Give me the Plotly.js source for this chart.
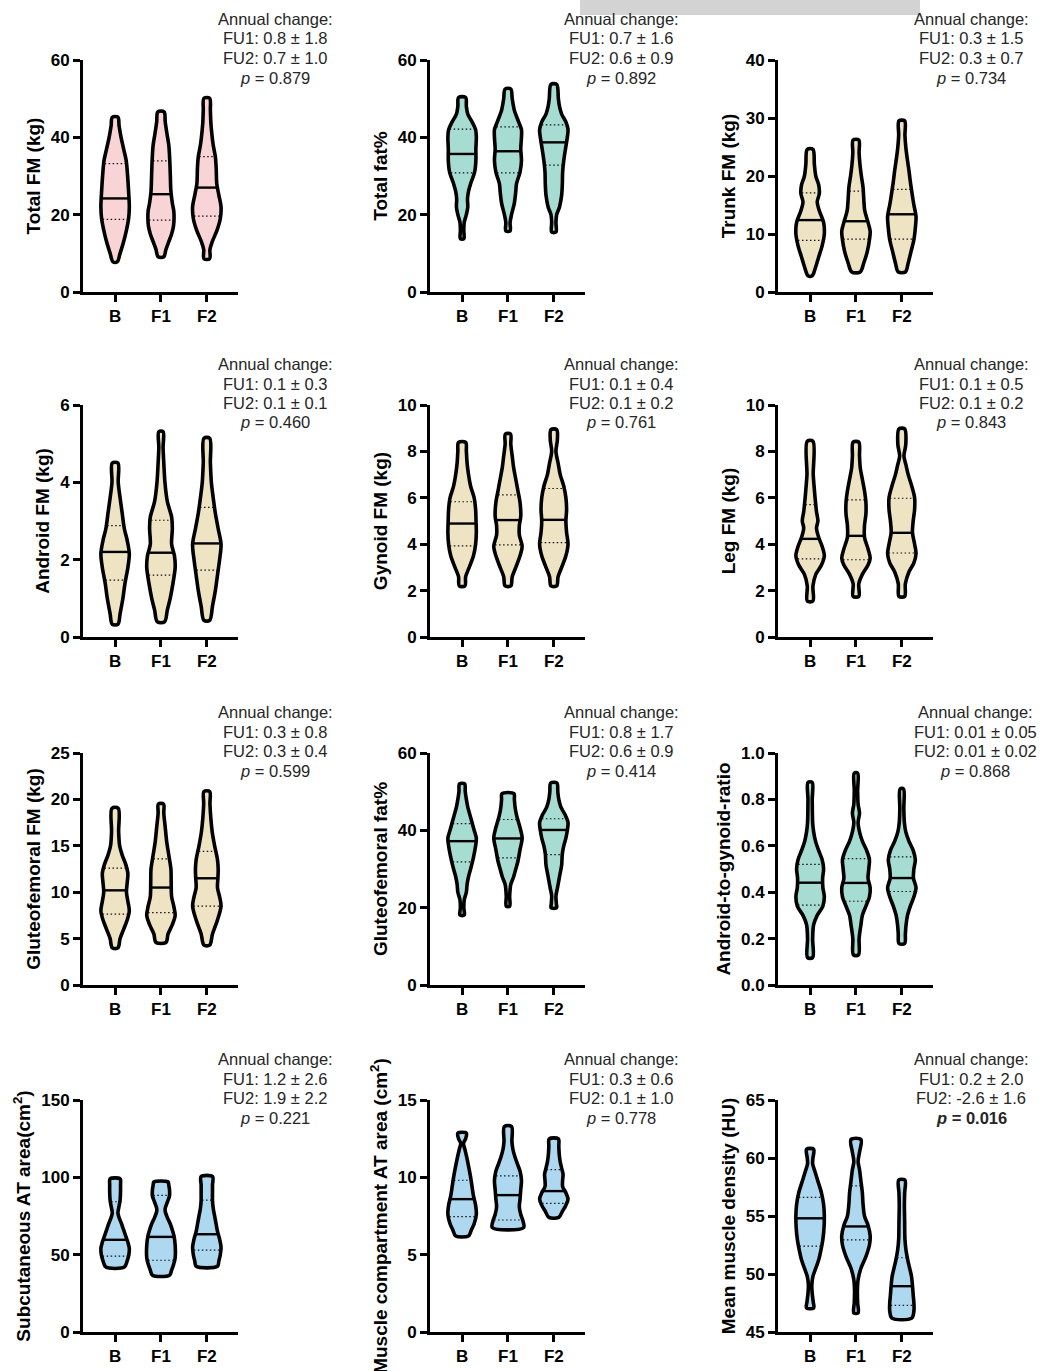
<!DOCTYPE html>
<html><head><meta charset="utf-8">
<script src="https://cdn.plot.ly/plotly-3.0.1.min.js"></script>
<style>html,body{margin:0;padding:0;background:#fff}</style>
</head><body><div id="chart" style="width:1042px;height:1371px"></div>
<script>
// ---------- categories & labels ----------
const groups = ['B', 'F1', 'F2'];
const yTitles = ['Total FM (kg)', 'Total fat%', 'Trunk FM (kg)',
  'Android FM (kg)', 'Gynoid FM (kg)', 'Leg FM (kg)',
  'Gluteofemoral FM (kg)', 'Gluteofemoral fat%', 'Android-to-gynoid-ratio',
  'Subcutaneous AT area(cm<sup>2</sup>)', 'Muscle compartment AT area (cm<sup>2</sup>)', 'Mean muscle density (HU)'];
const yMins = [0, 0, 0, 0, 0, 0, 0, 0, 0, 0, 0, 45];
const yMaxs = [60, 60, 40, 6, 10, 10, 25, 60, 1.0, 150, 15, 65];
const yDticks = [20, 20, 10, 2, 2, 2, 5, 20, 0.2, 50, 5, 5];
const fu1Change = ['0.8 ± 1.8', '0.7 ± 1.6', '0.3 ± 1.5', '0.1 ± 0.3', '0.1 ± 0.4', '0.1 ± 0.5', '0.3 ± 0.8', '0.8 ± 1.7', '0.01 ± 0.05', '1.2 ± 2.6', '0.3 ± 0.6', '0.2 ± 2.0'];
const fu2Change = ['0.7 ± 1.0', '0.6 ± 0.9', '0.3 ± 0.7', '0.1 ± 0.1', '0.1 ± 0.2', '0.1 ± 0.2', '0.3 ± 0.4', '0.6 ± 0.9', '0.01 ± 0.02', '1.9 ± 2.2', '0.1 ± 1.0', '-2.6 ± 1.6'];
const pValues = ['0.879', '0.892', '0.734', '0.460', '0.761', '0.843', '0.599', '0.414', '0.868', '0.221', '0.778', '0.016'];

// ---------- violin profiles (value levels, relative half-widths) per group B, F1, F2 ----------
const totalFM_levels = [
  [7.8, 10, 13, 16, 19, 22, 26, 30, 34, 37, 40, 43, 45.2],
  [9.1, 11, 13, 15, 17, 19, 21, 23, 26, 30, 34, 38, 41, 44, 46.6],
  [8.6, 11, 13, 16, 19, 22, 25, 28, 32, 35, 38, 41, 44, 47, 50.1]];
const totalFM_widths = [
  [0.15, 0.35, 0.6, 0.8, 0.95, 1.0, 0.95, 0.88, 0.78, 0.6, 0.42, 0.28, 0.2],
  [0.2, 0.35, 0.55, 0.75, 0.88, 0.92, 0.9, 0.8, 0.7, 0.66, 0.62, 0.55, 0.42, 0.3, 0.22],
  [0.2, 0.22, 0.38, 0.72, 0.95, 1.0, 0.85, 0.7, 0.66, 0.6, 0.45, 0.35, 0.28, 0.25, 0.2]];
const totalFM_quart = [[18.8, 24.2, 33.2], [18.6, 25.3, 33.9], [19.6, 27.0, 35.0]];

const totalFat_levels = [
  [13.8, 16, 18, 20, 22, 24, 26, 28, 31, 34, 37, 40, 42, 44, 46, 48, 50.3],
  [15.8, 18, 20, 23, 26, 28, 31, 34, 37, 40, 42, 44, 47, 50, 52.5],
  [15.5, 18, 20, 22, 25, 28, 31, 34, 37, 40, 42, 44, 46, 48, 50, 53.7]];
const totalFat_widths = [
  [0.12, 0.12, 0.15, 0.3, 0.4, 0.38, 0.45, 0.6, 0.88, 0.97, 0.97, 1.0, 0.95, 0.7, 0.4, 0.3, 0.25],
  [0.15, 0.15, 0.25, 0.45, 0.55, 0.6, 0.85, 0.95, 0.9, 0.95, 0.95, 0.75, 0.45, 0.3, 0.2],
  [0.15, 0.15, 0.2, 0.4, 0.55, 0.6, 0.62, 0.7, 0.82, 0.95, 1.0, 0.85, 0.55, 0.4, 0.32, 0.2]];
const totalFat_quart = [[30.8, 35.7, 42.1], [30.8, 36.4, 42.7], [32.8, 38.7, 43.2]];

const trunkFM_levels = [
  [2.8, 4, 6, 8, 10, 12, 14, 15.5, 17, 18.5, 20, 22, 24.6],
  [3.45, 5, 7, 9, 10.5, 12, 14, 16, 18, 20, 22, 24, 26.2],
  [3.45, 5, 7, 9, 11, 13, 15, 17, 19, 21, 23, 25, 27, 29.5]];
const trunkFM_widths = [
  [0.15, 0.35, 0.6, 0.85, 1.0, 0.95, 0.65, 0.5, 0.65, 0.6, 0.4, 0.3, 0.2],
  [0.3, 0.55, 0.8, 0.95, 1.0, 0.85, 0.62, 0.55, 0.5, 0.38, 0.28, 0.22, 0.2],
  [0.25, 0.45, 0.65, 0.85, 0.95, 1.0, 0.85, 0.72, 0.6, 0.5, 0.38, 0.28, 0.22, 0.2]];
const trunkFM_quart = [[8.9, 12.4, 17.1], [9.1, 12.2, 17.4], [9.1, 13.4, 17.7]];

const androidFM_levels = [
  [0.33, 0.6, 1.0, 1.4, 1.8, 2.15, 2.5, 2.8, 3.2, 3.6, 4.0, 4.5],
  [0.39, 0.7, 1.0, 1.4, 1.8, 2.1, 2.4, 2.8, 3.1, 3.5, 4.0, 4.5, 4.9, 5.31],
  [0.43, 0.8, 1.2, 1.6, 2.0, 2.4, 2.8, 3.2, 3.6, 4.0, 4.5, 5.14]];
const androidFM_widths = [
  [0.2, 0.35, 0.55, 0.7, 0.9, 1.0, 0.85, 0.65, 0.5, 0.35, 0.22, 0.2],
  [0.25, 0.45, 0.65, 0.85, 1.0, 0.95, 0.75, 0.8, 0.75, 0.45, 0.28, 0.2, 0.15, 0.15],
  [0.2, 0.4, 0.6, 0.75, 0.9, 1.0, 0.8, 0.6, 0.45, 0.32, 0.25, 0.2]];
const androidFM_quart = [[1.47, 2.2, 2.88], [1.6, 2.18, 3.02], [1.73, 2.42, 3.35]];

const gynoidFM_levels = [
  [2.2, 2.6, 3.0, 3.5, 4.0, 4.5, 5.0, 5.5, 6.0, 6.5, 7.0, 7.5, 8.0, 8.39],
  [2.2, 2.6, 3.0, 3.5, 3.9, 4.4, 4.8, 5.2, 5.8, 6.3, 6.8, 7.3, 7.8, 8.3, 8.75],
  [2.2, 2.6, 3.0, 3.5, 4.0, 4.5, 5.0, 5.5, 6.0, 6.5, 7.0, 7.5, 8.0, 8.5, 8.94]];
const gynoidFM_widths = [
  [0.2, 0.25, 0.5, 0.8, 0.95, 1.0, 0.98, 0.95, 0.85, 0.6, 0.45, 0.35, 0.3, 0.25],
  [0.2, 0.3, 0.55, 0.85, 1.0, 0.8, 0.8, 0.9, 0.85, 0.7, 0.55, 0.4, 0.3, 0.2, 0.18],
  [0.2, 0.3, 0.55, 0.85, 1.0, 0.9, 0.85, 0.9, 0.85, 0.7, 0.45, 0.3, 0.15, 0.25, 0.2]];
const gynoidFM_quart = [[3.93, 4.89, 5.83], [3.97, 5.04, 6.13], [4.07, 5.05, 6.4]];

const legFM_levels = [
  [1.55, 2.2, 2.7, 3.1, 3.5, 3.9, 4.3, 4.7, 5.0, 5.4, 6.0, 6.5, 7.0, 8.44],
  [1.75, 2.3, 2.7, 3.1, 3.4, 3.8, 4.3, 4.8, 5.3, 5.8, 6.3, 6.8, 7.3, 7.8, 8.4],
  [1.75, 2.3, 2.8, 3.2, 3.6, 4.0, 4.5, 5.0, 5.5, 6.0, 6.5, 7.0, 7.4, 7.8, 8.3, 8.97]];
const legFM_widths = [
  [0.2, 0.2, 0.4, 0.8, 1.0, 0.85, 0.6, 0.45, 0.55, 0.45, 0.35, 0.28, 0.22, 0.2],
  [0.2, 0.2, 0.45, 0.85, 1.0, 0.85, 0.6, 0.6, 0.7, 0.7, 0.6, 0.45, 0.3, 0.25, 0.2],
  [0.2, 0.25, 0.5, 0.85, 1.0, 0.9, 0.75, 0.8, 0.9, 0.9, 0.7, 0.45, 0.3, 0.15, 0.28, 0.2]];
const legFM_quart = [[3.37, 4.23, 5.71], [3.33, 4.36, 5.91], [3.62, 4.49, 5.98]];

const glutFM_levels = [
  [4.0, 5.0, 6.0, 7.0, 8.0, 9.0, 10.0, 11.0, 12.0, 13.0, 14.0, 15.0, 16.5, 19.05],
  [4.58, 5.5, 6.5, 7.5, 8.5, 9.5, 11, 12.5, 14, 15.5, 17, 18.5, 19.5],
  [4.3, 5.5, 7, 8.5, 9.5, 10.5, 11.5, 12.5, 13.5, 15, 16.5, 18, 19.5, 20.85]];
const glutFM_widths = [
  [0.2, 0.35, 0.6, 0.85, 1.0, 0.9, 0.8, 0.85, 0.9, 0.75, 0.5, 0.32, 0.25, 0.22],
  [0.35, 0.5, 0.8, 1.0, 0.9, 0.75, 0.72, 0.7, 0.55, 0.4, 0.3, 0.2, 0.18],
  [0.2, 0.4, 0.75, 1.0, 0.9, 0.75, 0.78, 0.8, 0.75, 0.55, 0.38, 0.28, 0.22, 0.2]];
const glutFM_quart = [[7.63, 10.2, 12.6], [7.8, 10.5, 13.6], [8.5, 11.5, 14.4]];

const glutFat_levels = [
  [18.08, 20, 22, 24, 26, 28, 30, 33, 36, 38, 40, 42, 44, 46, 48, 50, 52],
  [20.4, 23, 26, 28, 30, 32, 35, 38, 40, 42, 44, 46, 48, 49.5],
  [19.97, 21, 23, 25, 27, 29, 31, 34, 36, 38, 40, 42, 44, 46, 48, 50, 52.25]];
const glutFat_widths = [
  [0.15, 0.12, 0.15, 0.3, 0.35, 0.45, 0.6, 0.8, 0.95, 1.0, 0.85, 0.7, 0.55, 0.4, 0.3, 0.22, 0.18],
  [0.12, 0.12, 0.2, 0.4, 0.55, 0.7, 0.85, 1.0, 0.9, 0.75, 0.6, 0.5, 0.45, 0.42],
  [0.2, 0.18, 0.15, 0.25, 0.35, 0.45, 0.55, 0.6, 0.7, 0.85, 0.95, 1.0, 0.8, 0.5, 0.35, 0.28, 0.22]];
const glutFat_quart = [[31.85, 37.2, 41.75], [32.9, 37.9, 42.8], [33.7, 40.1, 43.0]];

const agRatio_levels = [
  [0.118, 0.2, 0.26, 0.3, 0.34, 0.38, 0.42, 0.46, 0.5, 0.54, 0.58, 0.62, 0.66, 0.7, 0.8, 0.873],
  [0.13, 0.2, 0.26, 0.3, 0.34, 0.38, 0.42, 0.46, 0.5, 0.54, 0.58, 0.62, 0.66, 0.7, 0.74, 0.78, 0.84, 0.913],
  [0.179, 0.22, 0.26, 0.3, 0.34, 0.38, 0.42, 0.46, 0.5, 0.54, 0.58, 0.62, 0.66, 0.7, 0.76, 0.845]];
const agRatio_widths = [
  [0.18, 0.18, 0.25, 0.5, 0.9, 1.0, 0.9, 0.88, 0.95, 0.85, 0.6, 0.38, 0.25, 0.18, 0.15, 0.15],
  [0.18, 0.22, 0.35, 0.45, 0.7, 0.95, 1.0, 0.85, 0.9, 0.95, 0.75, 0.45, 0.25, 0.15, 0.25, 0.15, 0.12, 0.12],
  [0.2, 0.25, 0.3, 0.4, 0.6, 0.85, 1.0, 0.82, 0.85, 0.95, 0.8, 0.5, 0.28, 0.18, 0.14, 0.12]];
const agRatio_quart = [[0.344, 0.441, 0.52], [0.361, 0.44, 0.545], [0.403, 0.461, 0.552]];

const subcutAT_levels = [
  [42, 46, 50, 54, 58, 62, 66, 70, 74, 77, 80, 85, 90, 95, 99],
  [36.7, 40, 44, 48, 56, 62, 66, 70, 74, 78, 80, 84, 88, 92, 95, 97],
  [42.5, 46, 50, 55, 60, 65, 70, 75, 80, 85, 90, 95, 100.5]];
const subcutAT_widths = [
  [0.65, 0.85, 0.97, 1.0, 0.9, 0.75, 0.6, 0.45, 0.28, 0.2, 0.25, 0.35, 0.38, 0.38, 0.35],
  [0.6, 0.75, 0.9, 1.0, 1.0, 0.92, 0.8, 0.65, 0.45, 0.3, 0.3, 0.45, 0.6, 0.6, 0.55, 0.5],
  [0.75, 0.85, 0.95, 1.0, 0.9, 0.75, 0.65, 0.55, 0.45, 0.4, 0.4, 0.4, 0.4]];
const subcutAT_quart = [[49.0, 59.6, 84.2], [46.4, 61.5, 88.3], [52.9, 63.2, 85.3]];

const muscleAT_levels = [
  [6.21, 6.6, 7.0, 7.6, 8.2, 8.8, 9.4, 10.0, 10.6, 11.2, 11.8, 12.2, 12.5, 12.86],
  [6.75, 7.2, 7.6, 8.1, 8.6, 9.2, 9.8, 10.4, 10.9, 11.3, 11.8, 12.3, 13.29],
  [7.41, 7.8, 8.2, 8.6, 9.0, 9.4, 9.8, 10.2, 10.6, 11.0, 11.5, 12.0, 12.49]];
const muscleAT_widths = [
  [0.45, 0.65, 0.85, 1.0, 0.95, 0.8, 0.7, 0.6, 0.48, 0.35, 0.2, 0.1, 0.25, 0.3],
  [1.1, 1.05, 0.9, 0.8, 0.85, 0.9, 0.95, 0.85, 0.65, 0.5, 0.35, 0.28, 0.25],
  [0.35, 0.6, 0.85, 1.0, 0.85, 0.62, 0.62, 0.65, 0.55, 0.45, 0.38, 0.35, 0.32]];
const muscleAT_quart = [[7.46, 8.59, 9.81], [7.24, 8.85, 10.09], [8.31, 9.11, 10.5]];

const muscleHU_levels = [
  [47.07, 47.6, 48.3, 49.0, 49.8, 50.5, 51.2, 52, 53, 54, 55, 56, 57, 58, 58.8, 59.5, 60.0, 60.76],
  [46.64, 47.5, 48.5, 49.5, 50.5, 51.5, 52.5, 53.3, 54.2, 55, 56, 57, 58, 59, 59.7, 60.5, 61.6],
  [46.2, 46.8, 47.5, 48.2, 49.0, 49.8, 50.5, 51.2, 52.0, 53, 54.5, 56, 57, 58.1]];
const muscleHU_widths = [
  [0.25, 0.22, 0.15, 0.12, 0.2, 0.4, 0.6, 0.75, 0.9, 0.98, 1.0, 0.95, 0.8, 0.55, 0.35, 0.18, 0.2, 0.25],
  [0.15, 0.12, 0.1, 0.15, 0.35, 0.7, 0.95, 1.0, 0.85, 0.6, 0.5, 0.45, 0.35, 0.25, 0.15, 0.25, 0.35],
  [0.7, 0.85, 0.85, 0.8, 0.75, 0.68, 0.55, 0.42, 0.3, 0.22, 0.2, 0.18, 0.2, 0.22]];
const muscleHU_quart = [[52.4, 54.8, 56.6], [52.95, 54.1, 57.6], [47.3, 48.95, 51.4]];

// ---------- assembly ----------
const panelLevels = [totalFM_levels, totalFat_levels, trunkFM_levels, androidFM_levels, gynoidFM_levels, legFM_levels,
  glutFM_levels, glutFat_levels, agRatio_levels, subcutAT_levels, muscleAT_levels, muscleHU_levels];
const panelWidths = [totalFM_widths, totalFat_widths, trunkFM_widths, androidFM_widths, gynoidFM_widths, legFM_widths,
  glutFM_widths, glutFat_widths, agRatio_widths, subcutAT_widths, muscleAT_widths, muscleHU_widths];
const panelQuart = [totalFM_quart, totalFat_quart, trunkFM_quart, androidFM_quart, gynoidFM_quart, legFM_quart,
  glutFM_quart, glutFat_quart, agRatio_quart, subcutAT_quart, muscleAT_quart, muscleHU_quart];

const PINK = '#F8D4D6', TEAL = '#A6DCD1', BEIGE = '#EEE3C3', BLUE = '#AED7F0';
const panelFill = [PINK, TEAL, BEIGE, BEIGE, BEIGE, BEIGE, BEIGE, TEAL, TEAL, BLUE, BLUE, BLUE];

const W = 1042, H = 1371;
const colLeft = [83, 430, 778], colWidth = 155;
const rowTop = [60, 405, 753, 1100], rowHeight = 232;
const noteCenter = [275, 621, 971];
const MAXW = 0.31;
const FONT = 'Liberation Sans, Arial, Helvetica, sans-serif';

function widthAt(lv, wd, v) {
  if (v <= lv[0]) return wd[0];
  for (let i = 1; i < lv.length; i++) {
    if (v <= lv[i]) { const t = (v - lv[i - 1]) / (lv[i] - lv[i - 1]); return wd[i - 1] + t * (wd[i] - wd[i - 1]); }
  }
  return wd[wd.length - 1];
}

const traces = [];
const layout = {
  width: W, height: H, margin: {l: 0, r: 0, t: 0, b: 0},
  paper_bgcolor: '#fff', plot_bgcolor: 'rgba(0,0,0,0)', showlegend: false,
  annotations: [], shapes: [],
  font: {family: FONT, color: '#000'}
};

for (let p = 0; p < 12; p++) {
  const row = Math.floor(p / 3), col = p % 3;
  const xs = p === 0 ? '' : String(p + 1);
  const xa = 'x' + xs, ya = 'y' + xs;
  const x0 = colLeft[col], yTop = rowTop[row];
  layout['xaxis' + xs] = {
    domain: [x0 / W, (x0 + colWidth) / W], anchor: ya,
    range: [-0.7, 2.68], tickvals: [0, 1, 2], ticktext: groups,
    showline: true, linecolor: '#000', linewidth: 3, mirror: false,
    ticks: 'outside', ticklen: 7, tickwidth: 3, tickcolor: '#000',
    showgrid: false, zeroline: false, fixedrange: true,
    tickfont: {family: FONT, size: 17, color: '#000', weight: 'bold'}
  };
  layout['yaxis' + xs] = {
    domain: [1 - (yTop + rowHeight) / H, 1 - yTop / H], anchor: xa,
    range: [yMins[p], yMaxs[p]], dtick: yDticks[p], tick0: yMins[p],
    tickformat: p === 8 ? '.1f' : '',
    showline: true, linecolor: '#000', linewidth: 3,
    ticks: 'outside', ticklen: 7, tickwidth: 3, tickcolor: '#000',
    showgrid: false, zeroline: false, fixedrange: true,
    tickfont: {family: FONT, size: 17, color: '#000', weight: 'bold'},
    title: {text: yTitles[p], standoff: 6, font: {family: FONT, size: 19, color: '#000', weight: 'bold'}}
  };

  for (let g = 0; g < 3; g++) {
    const lv = panelLevels[p][g], wd = panelWidths[p][g];
    const xsR = lv.map((v, i) => g + wd[i] * MAXW);
    const xsL = lv.map((v, i) => g - wd[i] * MAXW).reverse();
    const ysR = lv.slice(), ysL = lv.slice().reverse();
    traces.push({
      type: 'scatter', mode: 'lines', xaxis: xa, yaxis: ya,
      x: xsR.concat(xsL, [xsR[0]]), y: ysR.concat(ysL, [ysR[0]]),
      fill: 'toself', fillcolor: panelFill[p],
      line: {color: '#000', width: 3.6, shape: 'spline', smoothing: 0.9},
      hoverinfo: 'skip'
    });
    const q = panelQuart[p][g];
    q.forEach((v, k) => {
      const hw = widthAt(lv, wd, v) * MAXW - 0.02;
      traces.push({
        type: 'scatter', mode: 'lines', xaxis: xa, yaxis: ya,
        x: [g - hw, g + hw], y: [v, v],
        line: k === 1 ? {color: '#000', width: 2.4} : {color: '#111', width: 1.2, dash: '1.5px,2.5px'},
        hoverinfo: 'skip'
      });
    });
  }

  // annotation block
  const sig = parseFloat(pValues[p]) < 0.05;
  const lines = ['Annual change:', 'FU1: ' + fu1Change[p], 'FU2: ' + fu2Change[p],
    sig ? '<b><i>p</i> = ' + pValues[p] + '</b>' : '<i>p</i> = ' + pValues[p]];
  const offs = [-41, -21.5, -2, 17.5];
  const cx = (p === 8) ? 975 : noteCenter[col];
  lines.forEach((t, k) => {
    layout.annotations.push({
      xref: 'paper', yref: 'paper', x: cx / W, y: 1 - (yTop + offs[k]) / H,
      xanchor: 'center', yanchor: 'middle', showarrow: false, text: t,
      font: {family: FONT, size: 16.5, color: '#262626'}
    });
  });
}

// cropped header strip at top of source image
layout.shapes.push({type: 'rect', xref: 'paper', yref: 'paper', x0: 580 / W, x1: 920 / W, y0: 1 - 15 / H, y1: 1,
  fillcolor: '#D3D3D3', line: {width: 0}, layer: 'below'});

Plotly.newPlot('chart', traces, layout, {staticPlot: true, displayModeBar: false});
</script></body></html>
